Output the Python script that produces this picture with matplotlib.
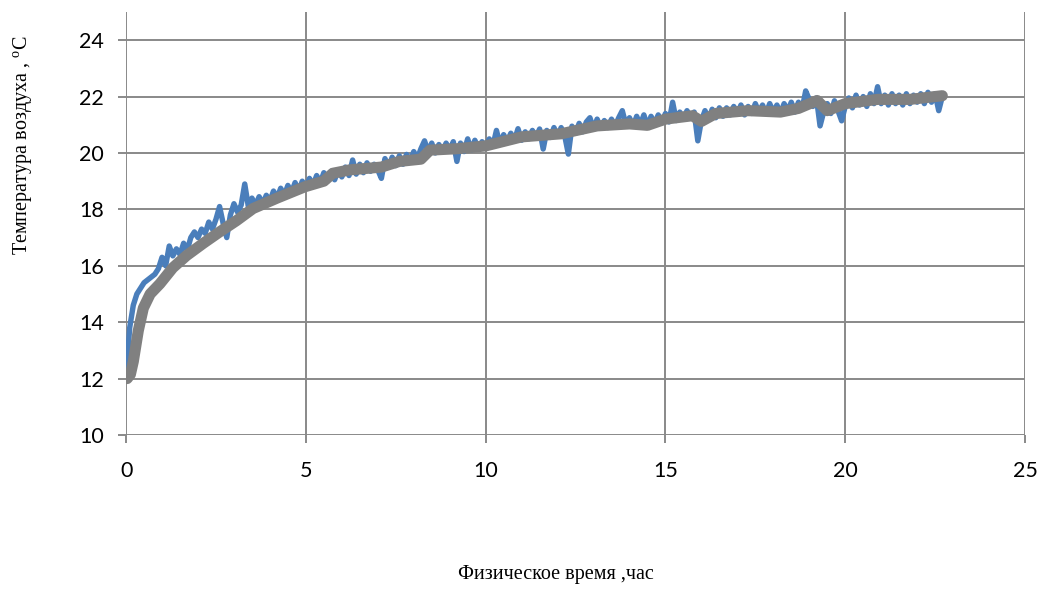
import matplotlib
matplotlib.use("Agg")
import matplotlib.pyplot as plt
import numpy as np

# measured temperature, one reading every 0.1 h (rows = hours)
step_h = 0.1
measured = [
    12.1, 13.8, 14.6, 15.0, 15.2, 15.4, 15.5, 15.6, 15.7, 15.9,
    16.3, 16.0, 16.7, 16.35, 16.6, 16.4, 16.8, 16.55, 17.0, 17.2,
    17.0, 17.3, 17.15, 17.55, 17.3, 17.65, 18.1, 17.5, 17.0, 17.8,
    18.2, 17.9, 18.15, 18.9, 18.1, 18.4, 18.15, 18.45, 18.2, 18.5,
    18.3, 18.65, 18.4, 18.75, 18.5, 18.85, 18.6, 18.95, 18.65, 19.0,
    18.75, 19.1, 18.85, 19.2, 18.95, 19.3, 19.0, 19.35, 19.05, 19.4,
    19.15, 19.5, 19.2, 19.75, 19.25, 19.6, 19.3, 19.65, 19.35, 19.6,
    19.4, 19.1, 19.8, 19.5, 19.85, 19.55, 19.9, 19.6, 19.95, 19.7,
    20.05, 19.8, 20.15, 20.43, 20.05, 20.35, 20.0, 20.3, 20.05, 20.35,
    20.1, 20.4, 19.7, 20.35, 20.05, 20.5, 20.1, 20.45, 20.15, 20.4,
    20.2, 20.5, 20.25, 20.8, 20.3, 20.65, 20.4, 20.7, 20.45, 20.86,
    20.45, 20.75, 20.5, 20.8, 20.55, 20.85, 20.14, 20.8, 20.55, 20.9,
    20.6, 20.9, 20.6, 19.96, 20.95, 20.7, 21.05, 20.75, 21.1, 21.25,
    20.85, 21.2, 20.9, 21.15, 20.9, 21.2, 20.95, 21.25, 21.5, 21.0,
    21.25, 20.95, 21.3, 21.0, 21.35, 20.95, 21.3, 21.05, 21.35, 21.1,
    21.4, 21.1, 21.8, 21.15, 21.45, 21.2, 21.5, 21.25, 21.45, 20.43,
    21.15, 21.5, 21.2, 21.55, 21.25, 21.6, 21.3, 21.6, 21.35, 21.65,
    21.4, 21.7, 21.35, 21.65, 21.4, 21.75, 21.45, 21.7, 21.4, 21.75,
    21.45, 21.7, 21.4, 21.75, 21.5, 21.8, 21.45, 21.8, 21.55, 22.2,
    21.9, 21.65, 21.95, 20.96, 21.45, 21.75, 21.4, 21.85, 21.5, 21.14,
    21.65, 21.95, 21.6, 22.05, 21.7, 22.0, 21.65, 22.1, 21.75, 22.35,
    21.75, 22.05, 21.7, 22.1, 21.75, 22.05, 21.7, 22.1, 21.75, 22.05,
    21.8, 22.1, 21.75, 22.15, 21.8, 22.1, 21.5, 22.0,
]
measured_t = np.arange(len(measured)) * step_h

# smoothed trend (moving average)
trend_t = [0.03, 0.12, 0.2, 0.34, 0.48, 0.67, 0.94, 1.3, 1.68, 2.15, 2.6, 3.07,
           3.53, 4.2, 4.97, 5.5, 5.75, 6.22, 7.1, 7.6, 8.2, 8.45, 9.2, 10.0,
           11.0, 12.1, 13.1, 14.0, 14.5, 15.0, 15.75, 16.0, 16.4, 17.3, 18.2,
           18.7, 19.22, 19.5, 20.0, 20.9, 21.8, 22.7]
trend_y = [12.0, 12.15, 12.6, 13.7, 14.5, 15.0, 15.36, 15.93, 16.36, 16.8, 17.2,
           17.6, 18.03, 18.4, 18.8, 19.0, 19.28, 19.4, 19.5, 19.7, 19.78, 20.1,
           20.15, 20.25, 20.57, 20.68, 20.96, 21.03, 20.98, 21.2, 21.32, 21.12,
           21.4, 21.5, 21.45, 21.58, 21.86, 21.5, 21.75, 21.9, 21.9, 22.03]

x_ticks = [0, 5, 10, 15, 20, 25]
y_ticks = [10, 12, 14, 16, 18, 20, 22, 24]

grid_c = '#898989'

plt.rcParams['mathtext.fontset'] = 'custom'
plt.rcParams['mathtext.rm'] = 'Liberation Serif'

fig = plt.figure(figsize=(10.42, 5.98), dpi=100)
ax = fig.add_axes([0.121, 0.2726, 0.8627, 0.7074])

ax.plot(measured_t, measured, color='#4a7ebb', lw=3.9,
        solid_capstyle='round', solid_joinstyle='round', zorder=3)
ax.plot(trend_t, trend_y, color='#808080', lw=8,
        solid_capstyle='round', solid_joinstyle='round', zorder=4)

ax.set_xlim(0, 25)
ax.set_ylim(10, 25)
ax.set_xticks(x_ticks)
ax.set_yticks(y_ticks)
ax.grid(True, color=grid_c, lw=1.4)
ax.set_axisbelow(True)
for s in ax.spines.values():
    s.set_visible(False)
ax.tick_params(direction='out', length=6, width=1.4, color=grid_c,
               labelsize=15.5, pad=10, labelcolor='black')
ax.tick_params(axis='x', pad=13)
for lab in ax.get_xticklabels() + ax.get_yticklabels():
    lab.set_fontfamily('Lato')

fig.text(23 / 1042, 1 - 145 / 598, 'Температура воздуха , $^{\\mathregular{o}}$С',
         rotation=90, ha='center', va='center', fontsize=14.5,
         family='Liberation Serif')
fig.text(556 / 1042, 1 - 575 / 598, 'Физическое время ,час',
         ha='center', va='center', fontsize=14.5, family='Liberation Serif')

fig.savefig('out.png', dpi=100)
